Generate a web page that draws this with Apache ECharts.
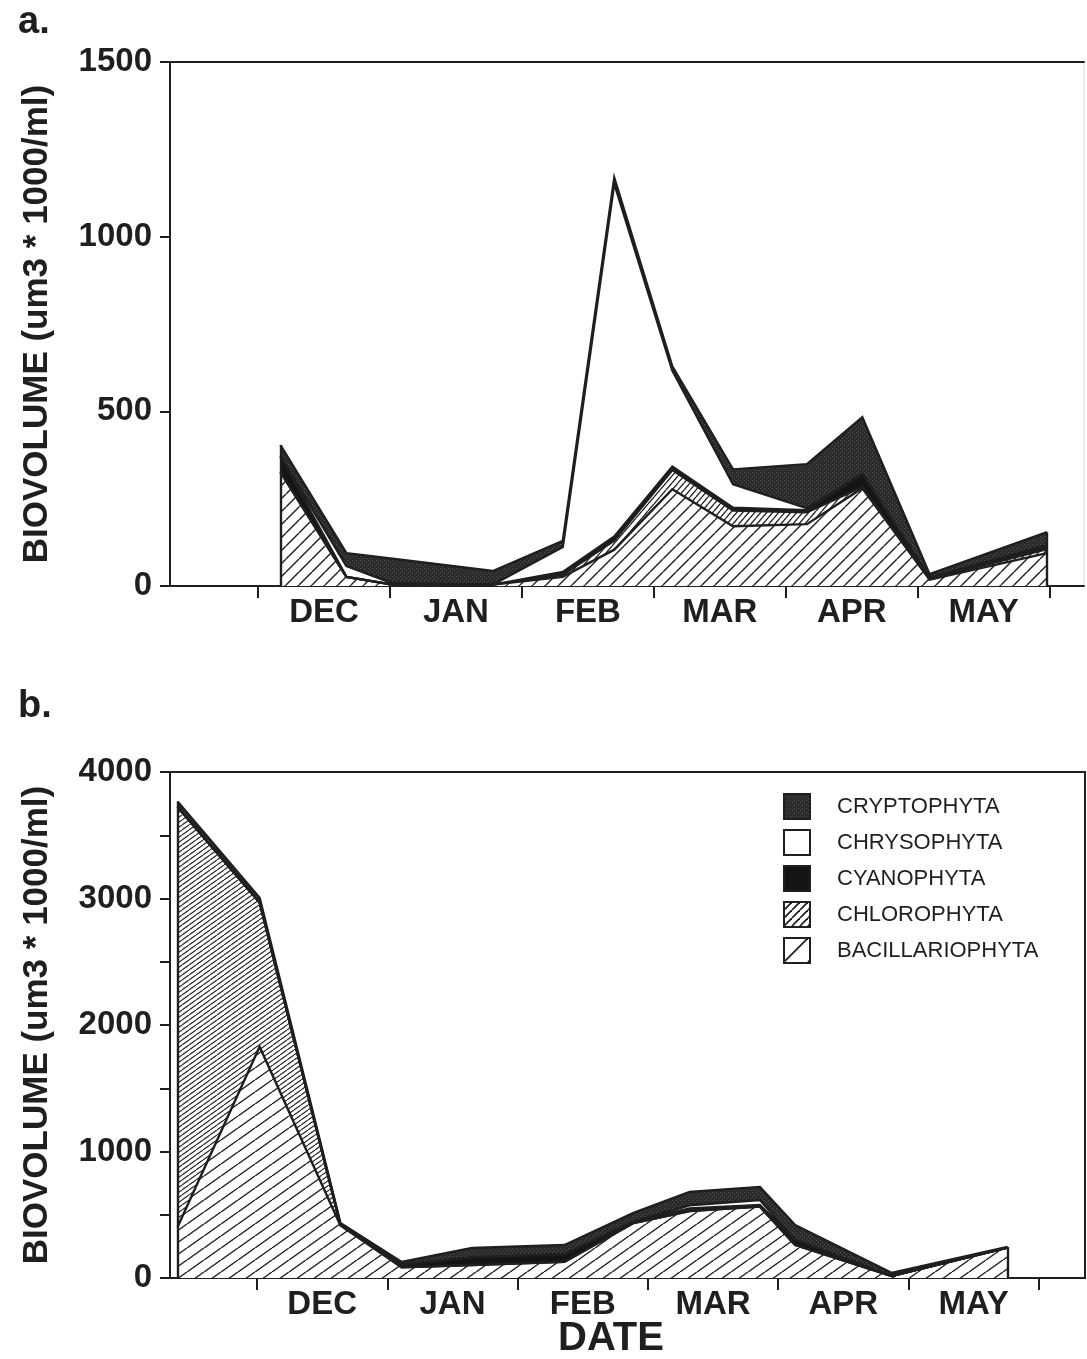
<!DOCTYPE html>
<html>
<head>
<meta charset="utf-8">
<script src="https://cdn.jsdelivr.net/npm/echarts@6/dist/echarts.min.js"></script>
<style>
  html, body { margin: 0; padding: 0; background: #fff; }
  #chart { width: 1087px; height: 1359px; }
</style>
</head>
<body>
<div id="chart"></div>
<script>
// Phytoplankton biovolume by division (um3 * 1000/ml), stacked.
// x positions are sampling dates in months after 1 December.

const MONTHS = ['DEC', 'JAN', 'FEB', 'MAR', 'APR', 'MAY'];
const MONTH_TICKS = [0, 1, 2, 3, 4, 5, 6];
const MONTH_LABEL_POS = [0.5, 1.5, 2.5, 3.5, 4.5, 5.5];
const DIVISIONS = ['CRYPTOPHYTA', 'CHRYSOPHYTA', 'CYANOPHYTA', 'CHLOROPHYTA', 'BACILLARIOPHYTA'];

// panel a
const aSampleMonth     = [0.17, 0.67, 1.02, 1.78, 2.31, 2.70, 3.14, 3.60, 4.16, 4.58, 5.09, 5.98];
const aBacillariophyta = [326, 26, 4, 4, 26, 104, 277, 171, 177, 280, 18, 94];
const aChlorophyta     = [0, 0, 0, 0, 6, 26, 55, 45, 34, 4, 2, 12];
const aCyanophyta      = [45, 0, 0, 0, 8, 12, 10, 8, 6, 36, 4, 6];
const aChrysophyta     = [0, 31, 4, 0, 72, 1010, 275, 67, 6, 0, 0, 5];
const aCryptophyta     = [32, 37, 70, 39, 17, 17, 12, 43, 126, 163, 10, 37];
const aYTicks = [0, 500, 1000, 1500];

// panel b
const bSampleMonth     = [-0.61, 0.02, 0.64, 1.11, 1.65, 2.36, 2.89, 3.32, 3.86, 4.13, 4.87, 5.76];
const bBacillariophyta = [404, 1828, 415, 85, 103, 127, 435, 530, 564, 261, 15, 240];
const bChlorophyta     = [3320, 1140, 5, 0, 0, 0, 0, 0, 0, 0, 0, 0];
const bCyanophyta      = [0, 0, 0, 20, 60, 60, 10, 20, 13, 40, 0, 0];
const bChrysophyta     = [0, 0, 0, 0, 0, 0, 0, 25, 40, 0, 0, 0];
const bCryptophyta     = [42, 38, 15, 22, 74, 74, 69, 105, 103, 118, 25, 5];
const bYTicks = [0, 500, 1000, 1500, 2000, 2500, 3000, 3500, 4000];
const bYLabels = [0, 1000, 2000, 3000, 4000];

const INK = '#1f1f1f';
const FONT = 'Liberation Sans';

// ---- fill patterns ----
function hatch(w, h, lw) {
  const c = document.createElement('canvas');
  c.width = w; c.height = h;
  const g = c.getContext('2d');
  g.fillStyle = '#ffffff';
  g.fillRect(0, 0, w, h);
  g.strokeStyle = INK;
  g.lineWidth = lw;
  for (let k = 0; k < 3; k++) {
    g.beginPath();
    g.moveTo(k * w, 0);
    g.lineTo((k - 1) * w, h);
    g.stroke();
  }
  return { image: c, repeat: 'repeat' };
}
function stipple() {
  const c = document.createElement('canvas');
  c.width = 4; c.height = 4;
  const g = c.getContext('2d');
  g.fillStyle = '#2a2a2a';
  g.fillRect(0, 0, 4, 4);
  g.fillStyle = '#555555';
  g.fillRect(0, 0, 1, 1);
  g.fillRect(2, 2, 1, 1);
  return { image: c, repeat: 'repeat' };
}
const CRYPTO_FILL = stipple();
const CHRYSO_FILL = '#ffffff';
const CYANO_FILL = '#141414';

// bottom-up fills per panel: BAC, CHL, CYA, CHR, CRY
const aFills = [hatch(13, 13, 1.4), hatch(6, 7, 1.3), CYANO_FILL, CHRYSO_FILL, CRYPTO_FILL];
const bFills = [hatch(17, 12, 1.4), hatch(7, 5, 1.1), CYANO_FILL, CHRYSO_FILL, CRYPTO_FILL];
const legendFill = {
  CRYPTOPHYTA: CRYPTO_FILL,
  CHRYSOPHYTA: CHRYSO_FILL,
  CYANOPHYTA: CYANO_FILL,
  CHLOROPHYTA: hatch(8, 8, 1.8),
  BACILLARIOPHYTA: hatch(24, 24, 1.8)
};

// ---- stacked layers ----
function panelSeries(axisIndex, months, layers, fills) {
  const names = ['BACILLARIOPHYTA', 'CHLOROPHYTA', 'CYANOPHYTA', 'CHRYSOPHYTA', 'CRYPTOPHYTA'];
  const cum = [];
  let run = months.map(() => 0);
  layers.forEach(arr => {
    run = run.map((s, k) => s + arr[k]);
    cum.push(run);
  });
  const areas = [];
  const outlines = [];
  // the top-most cumulative layer is painted first; each lower layer paints over it
  for (let i = layers.length - 1; i >= 0; i--) {
    const data = months.map((x, k) => [x, cum[i][k]]);
    areas.push({
      type: 'line', name: names[i], xAxisIndex: axisIndex, yAxisIndex: axisIndex,
      data: data, symbol: 'none', showSymbol: false, silent: true, z: 2,
      lineStyle: { width: 0, color: INK }, itemStyle: { color: INK },
      areaStyle: { color: fills[i], opacity: 1 }
    });
    outlines.push({
      type: 'line', name: names[i], xAxisIndex: axisIndex, yAxisIndex: axisIndex,
      data: data, symbol: 'none', showSymbol: false, silent: true, z: 3,
      lineStyle: { width: 2.4, color: INK, join: 'miter' }, itemStyle: { color: INK }
    });
  }
  const total = cum[cum.length - 1];
  const n = months.length - 1;
  outlines[outlines.length - 1].markLine = {
    silent: true, symbol: ['none', 'none'], label: { show: false },
    lineStyle: { color: INK, width: 2.4, type: 'solid' },
    emphasis: { disabled: true },
    data: [
      [{ coord: [months[0], 0] }, { coord: [months[0], total[0]] }],
      [{ coord: [months[n], 0] }, { coord: [months[n], total[n]] }]
    ]
  };
  return areas.concat(outlines);
}

const seriesA = panelSeries(0, aSampleMonth,
  [aBacillariophyta, aChlorophyta, aCyanophyta, aChrysophyta, aCryptophyta], aFills);
const seriesB = panelSeries(1, bSampleMonth,
  [bBacillariophyta, bChlorophyta, bCyanophyta, bChrysophyta, bCryptophyta], bFills);

// ---- axes ----
function monthAxis(gridIndex, min, max) {
  return {
    type: 'value', gridIndex: gridIndex, position: 'bottom', min: min, max: max,
    splitLine: { show: false },
    axisLine: { show: true, onZero: false, lineStyle: { color: INK, width: 2 } },
    axisTick: { show: true, inside: false, length: 12, customValues: MONTH_TICKS,
                lineStyle: { color: INK, width: 2 } },
    axisLabel: {
      show: true, customValues: MONTH_LABEL_POS, margin: 10,
      formatter: v => MONTHS[Math.floor(v)],
      fontFamily: FONT, fontWeight: 'bold', fontSize: 33, color: INK
    }
  };
}
function volumeAxis(gridIndex, max, ticks, labels) {
  return {
    type: 'value', gridIndex: gridIndex, min: 0, max: max,
    name: 'BIOVOLUME (um3 * 1000/ml)', nameLocation: 'middle', nameRotate: 90, nameGap: 115,
    nameTextStyle: { fontFamily: FONT, fontWeight: 'bold', fontSize: 35, color: INK },
    splitLine: { show: false },
    axisLine: { show: true, onZero: false, lineStyle: { color: INK, width: 2 } },
    axisTick: { show: true, inside: false, length: 10, customValues: ticks,
                lineStyle: { color: INK, width: 2 } },
    axisLabel: {
      show: true, customValues: labels, margin: 18,
      formatter: v => String(v),
      fontFamily: FONT, fontWeight: 'bold', fontSize: 33, color: INK
    }
  };
}

const option = {
  animation: false,
  backgroundColor: '#ffffff',
  title: [
    { text: 'a.', left: 18, top: 4, padding: 0,
      textStyle: { fontFamily: FONT, fontWeight: 'bold', fontSize: 38, color: INK } },
    { text: 'b.', left: 18, top: 688, padding: 0,
      textStyle: { fontFamily: FONT, fontWeight: 'bold', fontSize: 38, color: INK } },
    { text: 'DATE', left: 611, top: 1319, padding: 0, textAlign: 'center',
      textStyle: { fontFamily: FONT, fontWeight: 'bold', fontSize: 40, color: INK } }
  ],
  legend: {
    orient: 'vertical', left: 783, top: 793, padding: 0,
    itemWidth: 26, itemHeight: 25, itemGap: 9, icon: 'rect',
    selectedMode: false,
    data: DIVISIONS.map(name => ({
      name: name,
      itemStyle: { color: legendFill[name], borderColor: INK, borderWidth: 2 }
    })),
    textStyle: { fontFamily: FONT, fontSize: 22, color: INK, padding: [0, 0, 0, 22] }
  },
  grid: [
    { left: 170, top: 62, width: 914, height: 524, containLabel: false, outerBoundsMode: 'none',
      show: true, borderColor: '#d6d6d6', borderWidth: 1, backgroundColor: 'transparent' },
    { left: 170, top: 772, width: 915, height: 506, containLabel: false, outerBoundsMode: 'none',
      show: true, borderColor: INK, borderWidth: 2, backgroundColor: 'transparent' }
  ],
  xAxis: [
    monthAxis(0, -0.667, 6.26),
    monthAxis(1, -0.668, 6.355),
    { type: 'value', gridIndex: 0, position: 'top', min: -0.667, max: 6.26,
      splitLine: { show: false }, axisTick: { show: false }, axisLabel: { show: false },
      axisLine: { show: true, onZero: false, lineStyle: { color: INK, width: 2 } } }
  ],
  yAxis: [
    volumeAxis(0, 1500, aYTicks, aYTicks),
    volumeAxis(1, 4000, bYTicks, bYLabels)
  ],
  series: seriesA.concat(seriesB)
};

const chart = echarts.init(document.getElementById('chart'), null, { renderer: 'canvas' });
chart.setOption(option);
</script>
</body>
</html>
